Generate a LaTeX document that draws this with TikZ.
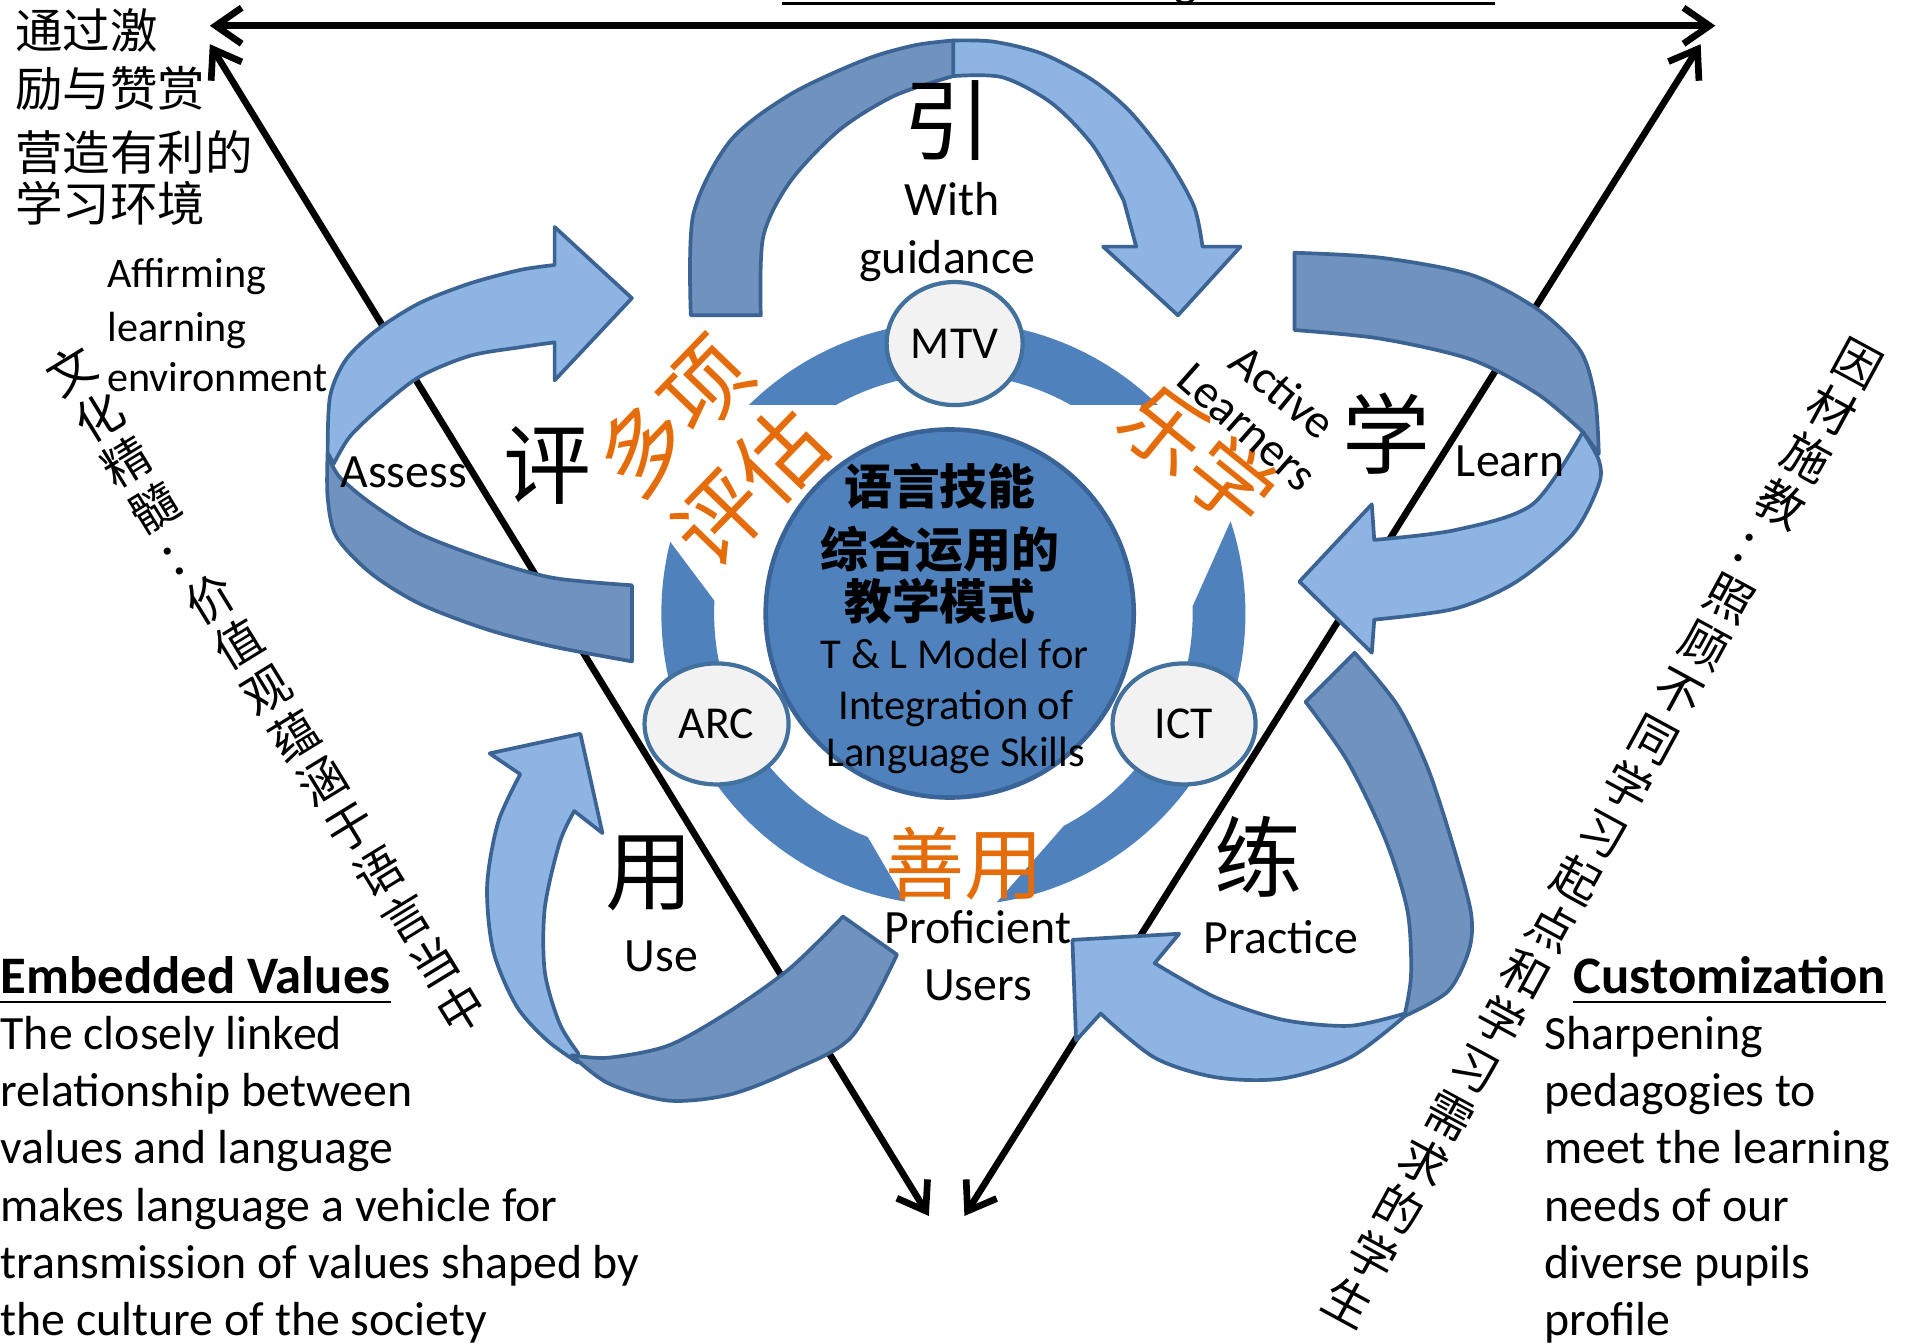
\documentclass[tikz,border=0pt]{standalone}
\usepackage{fontspec}
\setmainfont{Carlito}
\newfontfamily\cjk{Noto Sans CJK SC}
\usetikzlibrary{arrows.meta,shapes.geometric}
\definecolor{arrdark}{HTML}{7092BE}
\definecolor{arrlight}{HTML}{8EB4E3}
\definecolor{arrline}{HTML}{3B6393}
\definecolor{ringblue}{HTML}{4F81BD}
\definecolor{coreline}{HTML}{3A6497}
\definecolor{circline}{HTML}{41719C}
\definecolor{circfill}{HTML}{F2F2F2}
\definecolor{orangetxt}{HTML}{E46C0A}
\tikzset{
 blk/.style={line width=1.9pt, black, arrows={Straight Barb[length=2.6mm,width=3.6mm]-Straight Barb[length=2.6mm,width=3.6mm]}},
 darkband/.style={fill=arrdark, draw=arrline, line width=1.05pt, line join=round},
 lightband/.style={fill=arrlight, draw=arrline, line width=1.05pt, line join=round},
 ringpiece/.style={fill=ringblue, even odd rule},
 smallcirc/.style={ellipse, fill=circfill, draw=circline, line width=1.2pt, inner sep=0pt, font=\fontsize{13}{15}\selectfont},
 en/.style={font=\fontsize{13.6}{16}\selectfont, inner sep=0pt},
 ensmall/.style={font=\fontsize{12}{14}\selectfont, inner sep=0pt},
 enhead/.style={font=\bfseries\fontsize{15}{18}\selectfont, inner sep=0pt},
 cjkt/.style={font=\cjk\fontsize{13.5}{16}\selectfont, inner sep=0pt},
 vcol/.style={font=\cjk\fontsize{13.5}{15.2}\selectfont, inner sep=0pt, align=center},
 bigc/.style={font=\cjk\fontsize{25}{30}\selectfont, inner sep=0pt},
 orc/.style={font=\cjk\fontsize{24}{28}\selectfont, text=orangetxt, inner sep=0pt},
 coretxt/.style={font=\cjk\bfseries\fontsize{13.6}{16}\selectfont, inner sep=0pt},
 coreen/.style={font=\fontsize{12.1}{14}\selectfont, inner sep=0pt},
}
\begin{document}
\begin{tikzpicture}[x=0.01227cm,y=-0.01227cm]
\useasboundingbox (0,0) rectangle (1555,1095);
\fill[white] (0,0) rectangle (1555,1095);

% title remnant
\draw[line width=0.9pt] (637,3) -- (1218,3);
\node[en, anchor=base] (gdesc) at (966,-3) {g};

% black triangle of arrows
\coordinate (TL) at (171,21); \coordinate (TR) at (1398,21);
\coordinate (LT) at (171,36); \coordinate (LB) at (757,991);
\coordinate (RT) at (1386,36); \coordinate (RB) at (786,991);
\draw[blk] (TL) -- (TR);
\draw[blk] (LT) -- (LB);
\draw[blk] (RT) -- (RB);

% ring pieces
\begin{scope}
 \clip (0,0) rectangle (1555,330);
 \fill[ringpiece] (777,500) circle[radius=238] (777,500) circle[radius=195];
\end{scope}
\begin{scope}
 \clip (638,564) -- (218,4) -- (0,4) -- (0,1095) -- (926,1056) -- cycle;
 \fill[ringpiece] (777,500) circle[radius=238] (777,500) circle[radius=195];
\end{scope}
\begin{scope}
 \clip (918,615) -- (1193,-1) -- (1555,-1) -- (1555,1095) -- (522,1066) -- cycle;
 \fill[ringpiece] (777,500) circle[radius=238] (777,500) circle[radius=195];
\end{scope}

% core
\node[circle, fill=ringblue, draw=coreline, line width=1.3pt, minimum size=3.68cm, inner sep=0pt] (core) at (774,500) {};
\node[smallcirc, minimum width=1.36cm, minimum height=1.23cm] (mtv) at (778,280) {MTV};
\node[smallcirc, minimum width=1.44cm, minimum height=1.21cm] (arc) at (584,590) {ARC};
\node[smallcirc, minimum width=1.43cm, minimum height=1.21cm] (ict) at (965,590) {ICT};

% top arrow
\filldraw[darkband] plot[smooth] coordinates {(563,257) (565,175) (595,115) (644,77) (704,49) (745,37) (777,33)}
  -- plot[smooth] coordinates {(777,62) (729,78) (684,106) (644,148) (622,193) (620,257)} -- cycle;
\filldraw[lightband] plot[smooth] coordinates {(777,33) (810,34) (850,44) (890,65) (921,91) (951,129) (973,168) (980,201)}
  -- (1011,201) -- (960,257) -- (899,201) -- (926,201)
  -- plot[smooth] coordinates {(916,164) (891,119) (857,84) (817,63) (777,62)} -- cycle;

% right arrow
\filldraw[darkband] plot[smooth] coordinates {(1055,206) (1125,210) (1199,224) (1253,252) (1288,286) (1300,325) (1303,370)}
  -- plot[smooth] coordinates {(1290,352) (1253,321) (1199,293) (1125,276) (1055,269)} -- cycle;
\filldraw[lightband] plot[smooth] coordinates {(1290,352) (1303,375) (1303,395) (1282,435) (1236,474) (1186,496) (1120,505)}
  -- (1118,532) -- (1059,474) -- (1118,411)
  -- plot[smooth] coordinates {(1120,440) (1186,432) (1249,411) (1290,352)} -- cycle;

% bottom-right arrow
\filldraw[darkband] plot[smooth] coordinates {(1064,572) (1098,620) (1129,684) (1147,742) (1150,794) (1145,826)}
  -- plot[smooth] coordinates {(1145,828) (1180,808) (1197,775) (1199,745) (1186,695) (1164,627) (1139,575) (1104,532)} -- cycle;
\filldraw[lightband] plot[smooth] coordinates {(1145,826) (1100,836) (1045,831) (991,813) (941,785)}
  -- (961,761) -- (874,766) -- (877,848)
  -- plot[smooth] coordinates {(897,826) (941,862) (991,878) (1045,879) (1100,862) (1145,828)} -- cycle;

% bottom-left arrow
\filldraw[lightband] plot[smooth] coordinates {(424,631) (406,670) (397,722) (402,775) (421,820) (446,848) (471,866)}
  -- plot[smooth] coordinates {(471,858) (456,834) (444,792) (444,740) (456,687) (468,661)}
  -- (491,679) -- (473,598) -- (399,614) -- cycle;
\filldraw[darkband] plot[smooth] coordinates {(466,860) (496,883) (545,897) (595,892) (644,873) (694,845) (731,778)}
  -- plot[smooth] coordinates {(687,747) (644,789) (595,824) (545,852) (496,862) (466,860)} -- cycle;

% left arrow
\filldraw[lightband] plot[smooth] coordinates {(452,216) (424,220) (383,231) (342,247) (307,269) (282,293) (269,323) (267,369)}
  -- plot[smooth] coordinates {(272,378) (285,356) (310,332) (342,307) (383,290) (424,283) (452,279)}
  -- (452,310) -- (515,243) -- (452,185) -- cycle;
\filldraw[darkband] plot[smooth] coordinates {(267,369) (267,405) (274,437) (302,467) (342,492) (397,513) (451,527) (515,539)}
  -- plot[smooth] coordinates {(515,477) (451,471) (397,456) (342,435) (302,410) (277,389) (269,375)} -- cycle;

% core text
\node[coretxt] (c1) at (766,396) {语言技能};
\node[coretxt] (c2) at (766,448) {综合运用的};
\node[coretxt] (c3) at (766,490) {教学模式};
\node[coreen, anchor=base] (c4) at (778,545) {T \& L Model for};
\node[coreen, anchor=base] (c5) at (779,586) {Integration of};
\node[coreen, anchor=base] (c6) at (779,625) {Language Skills};

% big characters
\node[bigc] (yin) at (772,98) {引};
\node[bigc] (xue) at (1130,353) {学};
\node[bigc] (ping) at (446,379) {评};
\node[bigc] (yong) at (529,712) {用};
\node[bigc] (lian) at (1026,698) {练};

% orange characters
\node[orc, font=\cjk\fontsize{25}{28}\selectfont, rotate=46] (duo) at (549,339) {多项};
\node[orc, font=\cjk\fontsize{25}{28}\selectfont, rotate=46] (pg) at (611,396) {评估};
\node[orc, rotate=-39] (lx) at (977,371) {乐学};
\node[orc, font=\cjk\fontsize{22.5}{26}\selectfont] (sy) at (786,704) {善用};

% English labels
\node[en, anchor=base] (with) at (776,176) {With};
\node[en, anchor=base] (guid) at (772,223) {guidance};
\node[ensmall, anchor=base west] (aff1) at (87,234) {Affirming};
\node[ensmall, anchor=base west] (aff2) at (87,278) {learning};
\node[ensmall, anchor=base west] (aff3) at (87,319) {environment};
\node[en, anchor=base west] (assess) at (277,397) {Assess};
\node[en, anchor=base west] (learn) at (1186,388) {Learn};
\node[en, anchor=base] (use) at (539,792) {Use};
\node[en, anchor=base] (practice) at (1044,777) {Practice};
\node[en, anchor=base] (prof) at (797,769) {Proficient};
\node[en, anchor=base] (users) at (797,815) {Users};
\node[en, rotate=-39.4] (active) at (1046,319) {Active};
\node[en, rotate=-41.5] (learners) at (1016,348) {Learners};

% top-left Chinese
\node[cjkt, anchor=west] (t1) at (12,25) {通过激};
\node[cjkt, anchor=west] (t2) at (12,72) {励与赞赏};
\node[cjkt, anchor=west] (t3) at (12,124) {营造有利的};
\node[cjkt, anchor=west] (t4) at (12,166) {学习环境};

% rotated columns
\node[vcol, rotate=31.5] (lcol) at (217,562) {文\\化\\精\\髓\\：\\价\\值\\观\\蕴\\涵\\于\\语\\言\\当\\中};
\node[vcol, rotate=-28.5] (rcol) at (1306,679) {因\\材\\施\\教\\：\\照\\顾\\不\\同\\学\\习\\起\\点\\和\\学\\习\\需\\求\\的\\学\\生};

% bottom paragraphs
\node[enhead, anchor=base west] (ev) at (0,810) {Embedded Values};
\draw[line width=0.8pt] ([yshift=-2pt]ev.south west) -- ([yshift=-2pt]ev.south east);
\foreach \t [count=\i from 0] in {The closely linked, relationship between, values and language, makes language a vehicle for, transmission of values shaped by, the culture of the society}
  \node[en, anchor=base west] (evl\i) at (0,855+46.7*\i) {\t};
\node[enhead, anchor=base west] (cu) at (1282,810) {Customization};
\draw[line width=0.8pt] ([yshift=-2pt]cu.south west) -- ([yshift=-2pt]cu.south east);
\foreach \t [count=\i from 0] in {Sharpening, pedagogies to, meet the learning, needs of our, diverse pupils, profile}
  \node[en, anchor=base west] (cul\i) at (1258,855+46.7*\i) {\t};
\end{tikzpicture}
\end{document}
